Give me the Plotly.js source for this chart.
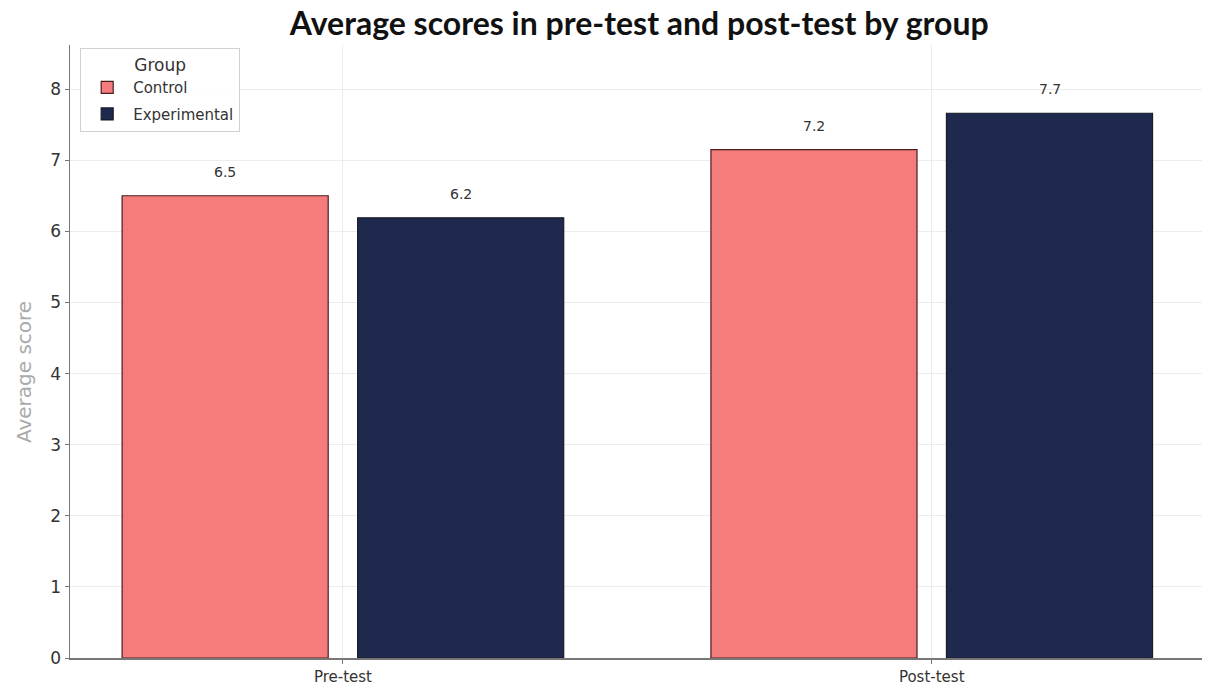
<!DOCTYPE html>
<html>
<head>
<meta charset="utf-8">
<script src="https://cdn.plot.ly/plotly-3.0.1.min.js"></script>
<style>html,body{margin:0;padding:0;background:#fff;}#chart{width:1213px;height:684px;}</style>
</head>
<body>
<div id="chart"></div>
<script>
const categories = ["Pre-test", "Post-test"];
const groups = ["Control", "Experimental"];
const controlValues = [6.5, 7.15];
const experimentalValues = [6.19, 7.66];
const controlLabels = ["6.5", "7.2"];
const experimentalLabels = ["6.2", "7.7"];
const yTicks = [0, 1, 2, 3, 4, 5, 6, 7, 8];

const series = [
  {name: groups[0], values: controlValues, labels: controlLabels, color: "#F47C7C", edge: "#4a1c1c", offset: -0.2},
  {name: groups[1], values: experimentalValues, labels: experimentalLabels, color: "#1F284D", edge: "#1a1a2a", offset: 0.2}
];

const traces = series.map(s => ({
  type: "bar",
  name: s.name,
  legendgroup: s.name,
  x: categories,
  y: s.values,
  marker: {color: s.color, line: {color: s.edge, width: 1.2}},
  hoverinfo: "skip"
}));

const annotations = [];
series.forEach(s => {
  s.values.forEach((v, i) => {
    annotations.push({
      x: i + s.offset, y: v, xref: "x", yref: "y",
      text: s.labels[i], showarrow: false,
      yanchor: "bottom", yshift: 14,
      font: {family: "DejaVu Sans", size: 14, color: "#333"}
    });
  });
});
annotations.push({
  x: -0.04, y: 0.466, xref: "paper", yref: "paper", xanchor: "center", yanchor: "middle",
  text: "Average score", textangle: -90, showarrow: false,
  font: {family: "DejaVu Sans", size: 20, color: "#aaa"}
});

const layout = {
  width: 1213, height: 684,
  margin: {l: 70, r: 11, t: 45, b: 26},
  paper_bgcolor: "#fff", plot_bgcolor: "#fff",
  title: {text: "<b>Average scores in pre-test and post-test by group</b>",
          font: {family: "Lato", size: 32, color: "#111"},
          x: 0.527, xanchor: "center", y: 0.982, yanchor: "top"},
  barmode: "group", bargap: 0.2, bargroupgap: 0.125,
  showlegend: true,
  legend: {x: 0.009, y: 0.995, xanchor: "left", yanchor: "top",
           bgcolor: "rgba(255,255,255,0.9)", bordercolor: "#d0d0d0", borderwidth: 1,
           title: {text: "Group", font: {family: "DejaVu Sans", size: 17, color: "#333"}, side: "top center"},
           font: {family: "DejaVu Sans", size: 15, color: "#333"},
           traceorder: "grouped", tracegroupgap: 4, itemwidth: 42},
  xaxis: {type: "category", range: [-0.4635, 1.459], showgrid: true, gridcolor: "#ececec", gridwidth: 1,
          showline: true, linecolor: "#777", linewidth: 1.5, ticks: "outside", ticklen: 4, tickcolor: "#777",
          tickfont: {family: "DejaVu Sans", size: 15, color: "#333"}, layer: "above traces", zeroline: false},
  yaxis: {range: [0, 8.62], tickvals: yTicks, showgrid: true, gridcolor: "#ececec", gridwidth: 1,
          showline: true, linecolor: "#777", linewidth: 1.5, ticks: "outside", ticklen: 4, tickcolor: "#777",
          tickfont: {family: "DejaVu Sans", size: 17, color: "#333"}, zeroline: false, layer: "above traces"},
  annotations: annotations
};

Plotly.newPlot("chart", traces, layout, {displayModeBar: false, staticPlot: true});
</script>
</body>
</html>
